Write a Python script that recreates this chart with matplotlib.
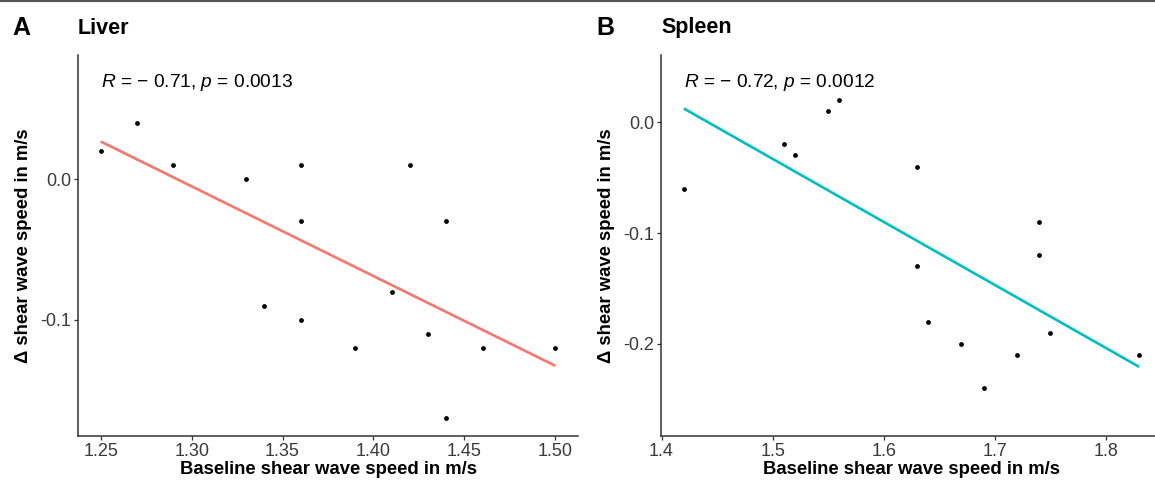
import numpy as np
import matplotlib
matplotlib.use("Agg")
import matplotlib.pyplot as plt
from matplotlib.lines import Line2D
from matplotlib.ticker import FuncFormatter

plt.rcParams["font.family"] = ["Liberation Sans", "DejaVu Sans"]
plt.rcParams["mathtext.fontset"] = "custom"
plt.rcParams["mathtext.rm"] = "Liberation Sans"
plt.rcParams["mathtext.it"] = "Liberation Sans:italic"

# Liver data
liver_x = [1.25, 1.27, 1.29, 1.33, 1.34, 1.36, 1.36, 1.36, 1.39, 1.41, 1.42, 1.43, 1.44, 1.44, 1.46, 1.50]
liver_y = [0.02, 0.04, 0.01, 0.00, -0.09, 0.01, -0.03, -0.10, -0.12, -0.08, 0.01, -0.11, -0.03, -0.17, -0.12, -0.12]

# Spleen data
spleen_x = [1.42, 1.51, 1.52, 1.55, 1.56, 1.63, 1.63, 1.64, 1.67, 1.69, 1.72, 1.74, 1.74, 1.75, 1.83]
spleen_y = [-0.06, -0.02, -0.03, 0.01, 0.02, -0.04, -0.13, -0.18, -0.20, -0.24, -0.21, -0.09, -0.12, -0.19, -0.21]

liver_ticks_x = [1.25, 1.30, 1.35, 1.40, 1.45, 1.50]
liver_ticks_y = [0.0, -0.1]
spleen_ticks_x = [1.4, 1.5, 1.6, 1.7, 1.8]
spleen_ticks_y = [0.0, -0.1, -0.2]

liver_label = "$R$ = \u2212 0.71, $p$ = 0.0013"
spleen_label = "$R$ = \u2212 0.72, $p$ = 0.0012"

W, H = 1155, 486
fig = plt.figure(figsize=(W / 100, H / 100), dpi=100)

# thin rule at top
fig.add_artist(Line2D([0, 1], [1 - 1 / H, 1 - 1 / H], color="#555555", lw=1.5))

dark = "#333333"


def style_axes(ax, xt, yt, xfmt, yfmt):
    for s in ["top", "right"]:
        ax.spines[s].set_visible(False)
    for s in ["left", "bottom"]:
        ax.spines[s].set_color(dark)
        ax.spines[s].set_linewidth(1.1)
    ax.set_xticks(xt)
    ax.set_yticks(yt)
    ax.xaxis.set_major_formatter(FuncFormatter(lambda v, p: format(v, xfmt)))
    ax.yaxis.set_major_formatter(FuncFormatter(lambda v, p: format(v, yfmt).replace("\u2212", "-")))
    ax.tick_params(direction="out", length=3, width=0.9, color=dark,
                   labelsize=13, labelcolor="#3a3a3a", pad=2)
    ax.set_xlabel("Baseline shear wave speed in m/s", fontsize=13.3, fontweight="bold")
    ax.set_ylabel("\u0394 shear wave speed in m/s", fontsize=13.3, fontweight="bold")
    ax.xaxis.set_label_coords(0.5, -0.066)
    ax.yaxis.set_label_coords(-0.092, 0.5)


def panel(rect, x, y, color, xlim, ylim, xt, yt, xfmt, label, label_y):
    ax = fig.add_axes(rect)
    x = np.array(x)
    y = np.array(y)
    slope, icpt = np.polyfit(x, y, 1)
    xs = np.array([x.min(), x.max()])
    ax.plot(xs, slope * xs + icpt, color=color, lw=1.9, zorder=2, solid_capstyle="butt")
    ax.scatter(x, y, s=12, color="black", zorder=3, linewidths=0)
    ax.set_xlim(xlim)
    ax.set_ylim(ylim)
    style_axes(ax, xt, yt, xfmt, ".1f")
    ax.text(x.min(), label_y, label, fontsize=13.8, ha="left", va="center", color="black")
    return ax


ax1 = panel([78 / W, 1 - 436 / H, 500 / W, 381 / H], liver_x, liver_y, "#F8766D",
            (1.2375, 1.5125), (-0.183, 0.0886), liver_ticks_x, liver_ticks_y, ".2f",
            liver_label, 0.0693)
ax2 = panel([661 / W, 1 - 436 / H, 501 / W, 381 / H], spleen_x, spleen_y, "#00BFC4",
            (1.3995, 1.8505), (-0.283, 0.0606), spleen_ticks_x, spleen_ticks_y, ".1f",
            spleen_label, 0.0362)

fig.text(12 / W, 1 - 28 / H, "A", fontsize=18, fontweight="bold", va="center", ha="left")
fig.text(78 / W, 1 - 28 / H, "Liver", fontsize=15.5, fontweight="bold", va="center", ha="left")
fig.text(596 / W, 1 - 28 / H, "B", fontsize=18, fontweight="bold", va="center", ha="left")
fig.text(661 / W, 1 - 28 / H, "Spleen", fontsize=15.5, fontweight="bold", va="center", ha="left")

fig.savefig("out.png", dpi=100)
